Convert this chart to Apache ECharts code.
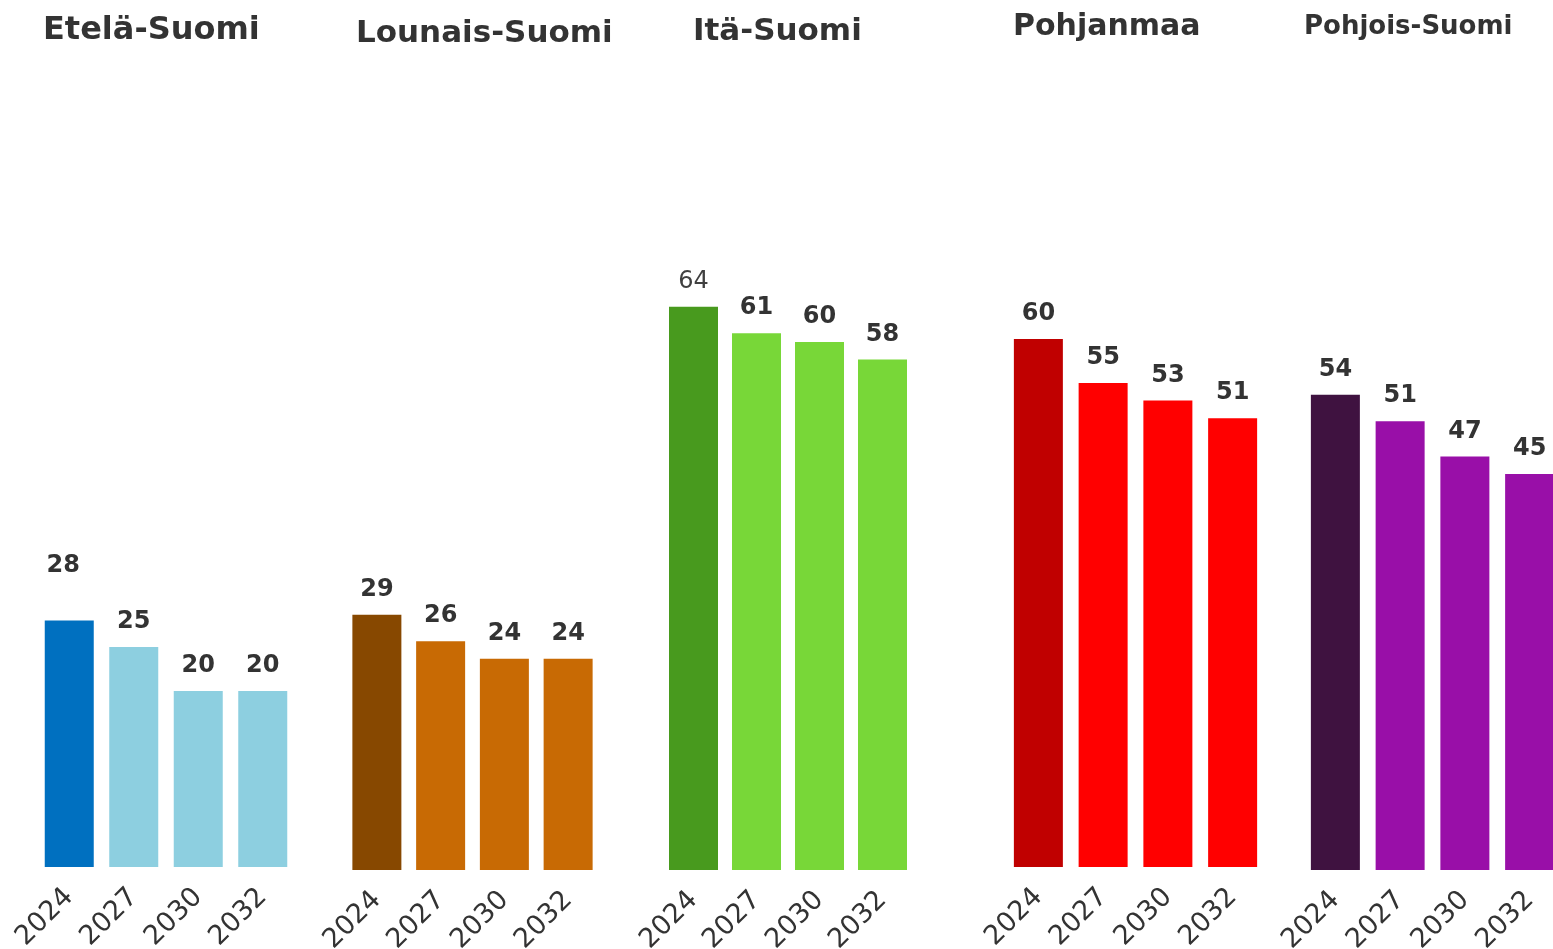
<!DOCTYPE html>
<html>
<head>
<meta charset="utf-8">
<script src="https://cdn.jsdelivr.net/npm/echarts@6/dist/echarts.min.js"></script>
<style>
  html, body { margin: 0; padding: 0; background: #fff; }
  #chart { width: 1553px; height: 949px; }
</style>
</head>
<body>
<div id="chart"></div>
<script>
// alueet ja vuodet
const regions = ['Etelä-Suomi', 'Lounais-Suomi', 'Itä-Suomi', 'Pohjanmaa', 'Pohjois-Suomi'];
const years = ['2024', '2027', '2030', '2032'];

// arvot per alue
const etelaSuomi = [28, 25, 20, 20];
const lounaisSuomi = [29, 26, 24, 24];
const itaSuomi = [64, 61, 60, 58];
const pohjanmaa = [60, 55, 53, 51];
const pohjoisSuomi = [54, 51, 47, 45];
const values = [etelaSuomi, lounaisSuomi, itaSuomi, pohjanmaa, pohjoisSuomi];

// värit: ensimmäinen vuosi tummempi
const firstColors = ['#0070C0', '#874800', '#489A1E', '#C00000', '#3F1240'];
const restColors = ['#8DCFE0', '#C86A04', '#78D738', '#FF0000', '#990FA8'];

// paneelien sijainti
const panels = [
  { left: 37, width: 258, bottom: 82, title: [38, 10, 32] },
  { left: 345, width: 255, bottom: 79, title: [351, 13, 31] },
  { left: 662, width: 252, bottom: 79, title: [688, 11, 31] },
  { left: 1006, width: 259, bottom: 82, title: [1008, 7, 30] },
  { left: 1303, width: 259, bottom: 79, title: [1299, 9, 26] }
];

const FONT = '"DejaVu Sans", Verdana, sans-serif';
const MAX = 80;
const PX_PER_UNIT = 8.8;

const chart = echarts.init(document.getElementById('chart'));

const option = {
  backgroundColor: '#fff',
  animation: false,
  title: panels.map((p, i) => ({
    text: regions[i],
    left: p.title[0],
    top: p.title[1],
    textStyle: { fontFamily: FONT, fontWeight: 'bold', fontSize: p.title[2], color: '#333' }
  })),
  grid: panels.map(p => ({
    left: p.left,
    width: p.width,
    bottom: p.bottom,
    height: MAX * PX_PER_UNIT,
    outerBoundsMode: 'none'
  })),
  xAxis: panels.map((p, i) => ({
    type: 'category',
    gridIndex: i,
    data: years,
    axisLine: { show: false },
    axisTick: { show: false },
    axisLabel: {
      rotate: 45,
      margin: 26,
      fontFamily: FONT,
      fontSize: 27,
      color: '#333'
    }
  })),
  yAxis: panels.map((p, i) => ({
    type: 'value',
    gridIndex: i,
    min: 0,
    max: MAX,
    show: false,
    splitLine: { show: false }
  })),
  series: values.map((vals, i) => ({
    type: 'bar',
    xAxisIndex: i,
    yAxisIndex: i,
    barWidth: 49,
    data: vals.map((v, j) => {
      const item = {
        value: v,
        itemStyle: { color: j === 0 ? firstColors[i] : restColors[i] }
      };
      // 28:n nimike on korkeammalla
      if (i === 0 && j === 0) item.label = { offset: [-6, -30] };
      // 64 ohuella fontilla
      if (i === 2 && j === 0) item.label = { fontWeight: 'normal', color: '#404040' };
      return item;
    }),
    label: {
      show: true,
      position: 'top',
      distance: 13,
      fontFamily: FONT,
      fontWeight: 'bold',
      fontSize: 24,
      color: '#333'
    }
  }))
};

chart.setOption(option);
</script>
</body>
</html>
